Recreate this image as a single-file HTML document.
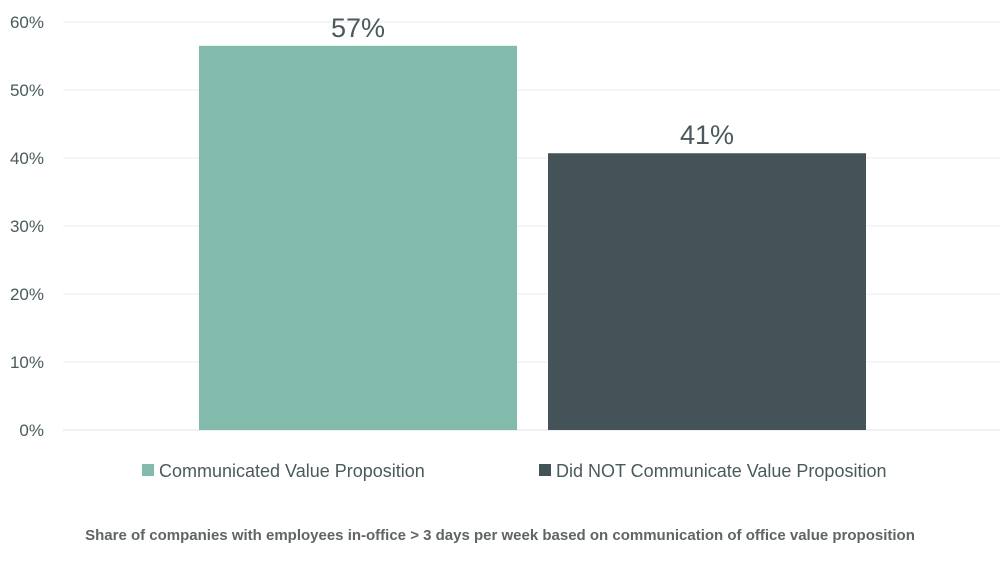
<!DOCTYPE html>
<html><head><meta charset="utf-8"><style>
html,body{margin:0;padding:0;background:#fff;width:1000px;height:580px;overflow:hidden}
svg{display:block;font-family:"Liberation Sans",sans-serif}
</style></head><body>
<svg id="chart" width="1000" height="580" viewBox="0 0 1000 580">
<g id="grid"></g>
<g id="yticks"></g>
<g id="bars"></g>
<g id="labels"></g>
<g>
<rect x="142" y="464" width="12" height="12" fill="#82bbab"/>
<text x="159" y="477" font-size="18" fill="#4a5a5c">Communicated Value Proposition</text>
<rect x="539" y="464" width="12" height="12" fill="#435357"/>
<text x="556" y="477" font-size="18" fill="#4a5a5c">Did NOT Communicate Value Proposition</text>
</g>
<text x="500" y="540" text-anchor="middle" font-size="15" font-weight="bold" fill="#5f6566">Share of companies with employees in-office &gt; 3 days per week based on communication of office value proposition</text>
</svg>
<script>
const categories = ["Communicated Value Proposition", "Did NOT Communicate Value Proposition"];
const values = [56.5, 40.7];
const valueLabels = ["57%", "41%"];
const tickValues = [0, 10, 20, 30, 40, 50, 60];
const tickLabels = ["0%", "10%", "20%", "30%", "40%", "50%", "60%"];
const colors = ["#82bbab", "#435357"];

const ns = "http://www.w3.org/2000/svg";
const y0 = 430, pxPer = 6.8;
function yScale(v){ return y0 - v * pxPer; }
const barLeft = 199, barStep = 349, barW = 318;
function xScale(i){ return barLeft + i * barStep; }
function mk(tag, attrs, parent){ const e=document.createElementNS(ns,tag); for(const k in attrs) e.setAttribute(k,attrs[k]); parent.appendChild(e); return e; }

const grid=document.getElementById('grid'), yt=document.getElementById('yticks');
tickValues.forEach((t,i)=>{
  const l=mk('line',{x1:63,x2:1000,y1:yScale(t),y2:yScale(t),stroke:t===0?'#dde3e3':'#ebeeee','stroke-width':1},grid);
  
  
  const tx=mk('text',{x:44,y:yScale(t)+6,'text-anchor':'end','font-size':17,fill:'#4a5a5c'},yt);
  tx.textContent=tickLabels[i];
  
  
});
const bars=document.getElementById('bars'), lab=document.getElementById('labels');
values.forEach((v,i)=>{
  const r=mk('rect',{x:xScale(i),y:yScale(v),width:barW,height:y0-yScale(v),fill:colors[i]},bars);
  
  
  const t=mk('text',{x:xScale(i)+barW/2,y:yScale(v)-9,'text-anchor':'middle','font-size':27,fill:'#4a5a5c'},lab);
  t.textContent=valueLabels[i];
  
  
});
</script>
</body></html>
